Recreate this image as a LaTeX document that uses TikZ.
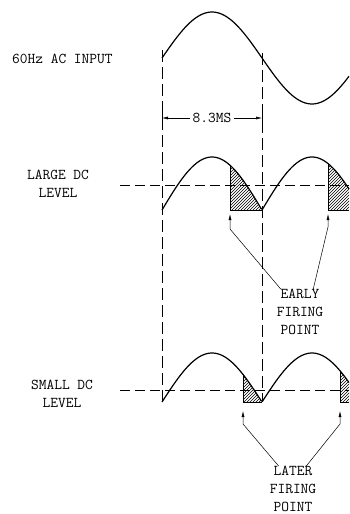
\documentclass[tikz,border=0pt]{standalone}
\usepackage{fontspec}
\usetikzlibrary{arrows.meta,patterns,positioning}

\begin{document}
\begin{tikzpicture}[x=1pt,y=-1pt,
  lbl/.style={font=\ttfamily\addfontfeatures{LetterSpace=10}\fontsize{15}{18}\selectfont,align=center,inner sep=0pt},
  guide/.style={dash pattern=on 12pt off 5pt,line width=0.6pt},
  level/.style={dash pattern=on 10pt off 5pt,line width=0.6pt},
  wave/.style={line width=1.2pt},
  hatch/.style={pattern=north east lines},
  ptr/.style={-{Latex[length=6pt,width=3pt]},line width=0.5pt}]
\useasboundingbox (0,0) rectangle (349,514);
% labels on the left
\node[lbl,anchor=west] (acin) at (12,59) {60Hz AC INPUT};
\node[lbl] (large) at (58,184) {LARGE DC\\LEVEL};
\node[lbl] (small) at (62,394) {SMALL DC\\LEVEL};
% half period guides
\draw[guide] (162,50) -- (162,402);
\draw[guide] (262,53) -- (262,402);
% ac input
\draw[wave] plot[domain=162:349,samples=90] (\x,{58-46*sin(1.8*(\x-162))});
% half period span
\node[lbl,inner sep=2pt] (span) at (212,118) {8.3MS};
\draw (162,110) -- (162,126);
\draw (262,110) -- (262,126);
\draw[ptr] (span.west) -- (162,118);
\draw[ptr] (span.east) -- (262,118);
% large dc level
\draw[level] (120,185) -- (349,185);
\fill[hatch] (230,210) -- plot[domain=230:262,samples=20] (\x,{210-53*abs(sin(1.8*(\x-162)))}) -- cycle;
\fill[hatch] (328,210) -- plot[domain=328:349,samples=20] (\x,{210-53*abs(sin(1.8*(\x-162)))}) -- (349,210) -- cycle;
\draw[line width=0.6pt] (230,{210-53*abs(sin(1.8*68))}) -- (230,210) -- (262,210);
\draw[line width=0.6pt] (328,{210-53*abs(sin(1.8*166))}) -- (328,210) -- (349,210);
\draw[wave] plot[domain=162:349,samples=150] (\x,{210-53*abs(sin(1.8*(\x-162)))});
% small dc level
\draw[level] (120,390) -- (349,390);
\fill[hatch] (243,402) -- plot[domain=243:262,samples=20] (\x,{402-49*abs(sin(1.8*(\x-162)))}) -- cycle;
\fill[hatch] (340,402) -- plot[domain=340:349,samples=10] (\x,{402-49*abs(sin(1.8*(\x-162)))}) -- (349,402) -- cycle;
\draw[line width=0.6pt] (243,{402-49*abs(sin(1.8*81))}) -- (243,402) -- (262,402);
\draw[line width=0.6pt] (340,{402-49*abs(sin(1.8*178))}) -- (340,402) -- (349,402);
\draw[wave] plot[domain=162:349,samples=150] (\x,{402-49*abs(sin(1.8*(\x-162)))});
% firing points
\coordinate (ef1) at (230,214);
\coordinate (ef2) at (328,214);
\coordinate (lf1) at (243,411);
\coordinate (lf2) at (340,411);
\node[lbl] (early) at (300,312) {EARLY\\FIRING\\POINT};
\node[lbl] (later) at (293,489) {LATER\\FIRING\\POINT};
\draw[ptr] (early.130) -- ([yshift=-15pt]ef1) -- (ef1);
\draw[ptr] (early.60) -- ([yshift=-13pt]ef2) -- (ef2);
\draw[ptr] (later.122) -- ([yshift=-13pt]lf1) -- (lf1);
\draw[ptr] (later.60) -- ([yshift=-13pt]lf2) -- (lf2);
\end{tikzpicture}
\end{document}
